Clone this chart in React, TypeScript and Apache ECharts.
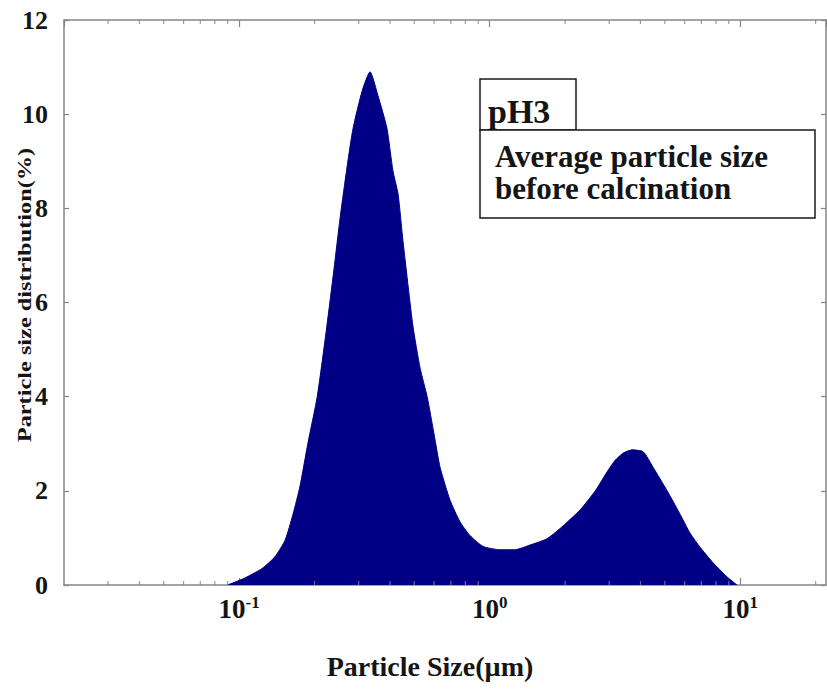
import React, { useEffect, useRef } from "react";
import * as echarts from "echarts";

// Particle size (µm) and volume fraction (%) along the distribution curve
const sizes: number[] = [
  0.09, 0.1055, 0.1234, 0.139, 0.1525, 0.164, 0.175, 0.188, 0.205, 0.224,
  0.239, 0.253, 0.27, 0.285, 0.31, 0.333, 0.358, 0.389, 0.411, 0.431,
  0.451, 0.494, 0.528, 0.563, 0.6, 0.634, 0.695, 0.762, 0.835, 0.941,
  1.1, 1.26, 1.45, 1.69, 1.91, 2.3, 2.64, 2.94, 3.17, 3.41,
  3.7, 4.1, 4.49, 5.11, 5.76, 6.31, 6.92, 7.8, 8.87, 9.72,
];
const distribution: number[] = [
  0, 0.15, 0.35, 0.6, 0.95, 1.5, 2.1, 3.0, 4.0, 5.5,
  6.7, 7.8, 8.9, 9.7, 10.5, 10.9, 10.4, 9.7, 8.8, 8.3,
  7.3, 5.5, 4.6, 4.0, 3.2, 2.5, 1.8, 1.34, 1.05, 0.82,
  0.75, 0.75, 0.85, 0.98, 1.2, 1.6, 2.0, 2.4, 2.65, 2.8,
  2.87, 2.83, 2.5, 2.0, 1.5, 1.1, 0.8, 0.47, 0.17, 0,
];

// Minor tick positions on the logarithmic size axis
const minorTicks: number[] = [
  0.03, 0.04, 0.05, 0.06, 0.07, 0.08, 0.09,
  0.2, 0.3, 0.4, 0.5, 0.6, 0.7, 0.8, 0.9,
  2, 3, 4, 5, 6, 7, 8, 9, 20,
];

const xMin = 0.02;
const xMax = 22;
const yMin = 0;
const yMax = 12;
const yStep = 2;

const sampleLabel = "pH3";
const noteLines = ["Average particle size", "before calcination"];
const xTitle = "Particle Size(µm)";
const yTitle = "Particle size distribution(%)";

const SERIF = "'Liberation Serif', 'Times New Roman', serif";
const AXIS_GREY = "#858585";
const FILL = "#000086";

export default function App() {
  const ref = useRef<HTMLDivElement>(null);

  useEffect(() => {
    if (!ref.current) return;
    const chart = echarts.init(ref.current, undefined, { renderer: "svg" });

    const isDecade = (v: number) => {
      const e = Math.log10(v);
      return Math.abs(e - Math.round(e)) < 1e-6;
    };

    const baseX = {
      type: "log" as const,
      logBase: 10,
      min: xMin,
      max: xMax,
      splitLine: { show: false },
      axisLine: { show: true, onZero: false, lineStyle: { color: AXIS_GREY, width: 1.5 } },
      axisTick: { show: true, inside: true, length: 7, lineStyle: { color: AXIS_GREY, width: 1.2 } },
    };
    const baseY = {
      type: "value" as const,
      min: yMin,
      max: yMax,
      interval: yStep,
      splitLine: { show: false },
      axisLine: { show: true, lineStyle: { color: AXIS_GREY, width: 1.5 } },
      axisTick: { show: true, inside: true, length: 5, lineStyle: { color: AXIS_GREY, width: 1.2 } },
    };

    const tickMark = (y: number, offset: number) => ({
      type: "scatter" as const,
      xAxisIndex: 0,
      yAxisIndex: 0,
      symbol: "rect",
      symbolSize: [1.2, 4],
      symbolOffset: [0, offset],
      itemStyle: { color: AXIS_GREY },
      silent: true,
      z: 5,
      data: minorTicks.map((t) => [t, y]),
    });

    chart.setOption({
      animation: false,
      backgroundColor: "#ffffff",
      grid: { left: 64, top: 20, right: 1, bottom: 108, containLabel: false },
      xAxis: [
        {
          ...baseX,
          position: "bottom",
          axisLabel: {
            show: true,
            margin: 9,
            showMinLabel: false,
            showMaxLabel: false,
            formatter: (v: number) =>
              isDecade(v) ? `{b|10}{s|${Math.round(Math.log10(v))}}` : "",
            rich: {
              b: { fontFamily: SERIF, fontWeight: "bold", fontSize: 27, color: "#151515", lineHeight: 30 },
              s: { fontFamily: SERIF, fontWeight: "bold", fontSize: 17, color: "#151515", lineHeight: 18, verticalAlign: "top" },
            },
          },
        },
        { ...baseX, position: "top", axisLabel: { show: false } },
      ],
      yAxis: [
        {
          ...baseY,
          position: "left",
          axisLabel: {
            show: true,
            margin: 16,
            fontFamily: SERIF,
            fontWeight: "bold",
            fontSize: 26,
            color: "#151515",
          },
        },
        { ...baseY, position: "right", axisLabel: { show: false } },
      ],
      series: [
        {
          type: "line",
          xAxisIndex: 0,
          yAxisIndex: 0,
          data: sizes.map((s, i) => [s, distribution[i]]),
          showSymbol: false,
          smooth: 0.2,
          lineStyle: { color: FILL, width: 1 },
          areaStyle: { color: FILL, opacity: 1 },
          z: 2,
        },
        tickMark(yMin, -2),
        tickMark(yMax, 2),
      ],
      graphic: [
        {
          type: "rect",
          shape: { x: 480, y: 79, width: 96, height: 51 },
          style: { fill: "#ffffff", stroke: "#1a1a1a", lineWidth: 1.5 },
          z: 10,
        },
        {
          type: "rect",
          shape: { x: 480, y: 130, width: 335, height: 88 },
          style: { fill: "#ffffff", stroke: "#1a1a1a", lineWidth: 1.5 },
          z: 10,
        },
        {
          type: "text",
          x: 488,
          y: 111,
          style: {
            text: sampleLabel,
            font: `bold 34px ${SERIF}`,
            fill: "#151515",
            textAlign: "left",
            textVerticalAlign: "middle",
          },
          z: 11,
        },
        ...noteLines.map((line, i) => ({
          type: "text",
          x: 495,
          y: 156 + i * 32,
          style: {
            text: line,
            font: `bold 31px ${SERIF}`,
            fill: "#151515",
            textAlign: "left",
            textVerticalAlign: "middle",
          },
          z: 11,
        })),
        {
          type: "text",
          x: 430,
          y: 666,
          style: {
            text: xTitle,
            font: `bold 28px ${SERIF}`,
            fill: "#151515",
            textAlign: "center",
            textVerticalAlign: "middle",
          },
        },
        {
          type: "text",
          x: 25,
          y: 295,
          rotation: Math.PI / 2,
          scaleX: 1.28,
          style: {
            text: yTitle,
            font: `bold 19px ${SERIF}`,
            fill: "#151515",
            textAlign: "center",
            textVerticalAlign: "middle",
          },
        },
      ],
    });

    return () => chart.dispose();
  }, []);

  return (
    <div
      ref={ref}
      style={{ position: "fixed", left: 0, top: 0, width: 827, height: 693, background: "#fff" }}
    />
  );
}
